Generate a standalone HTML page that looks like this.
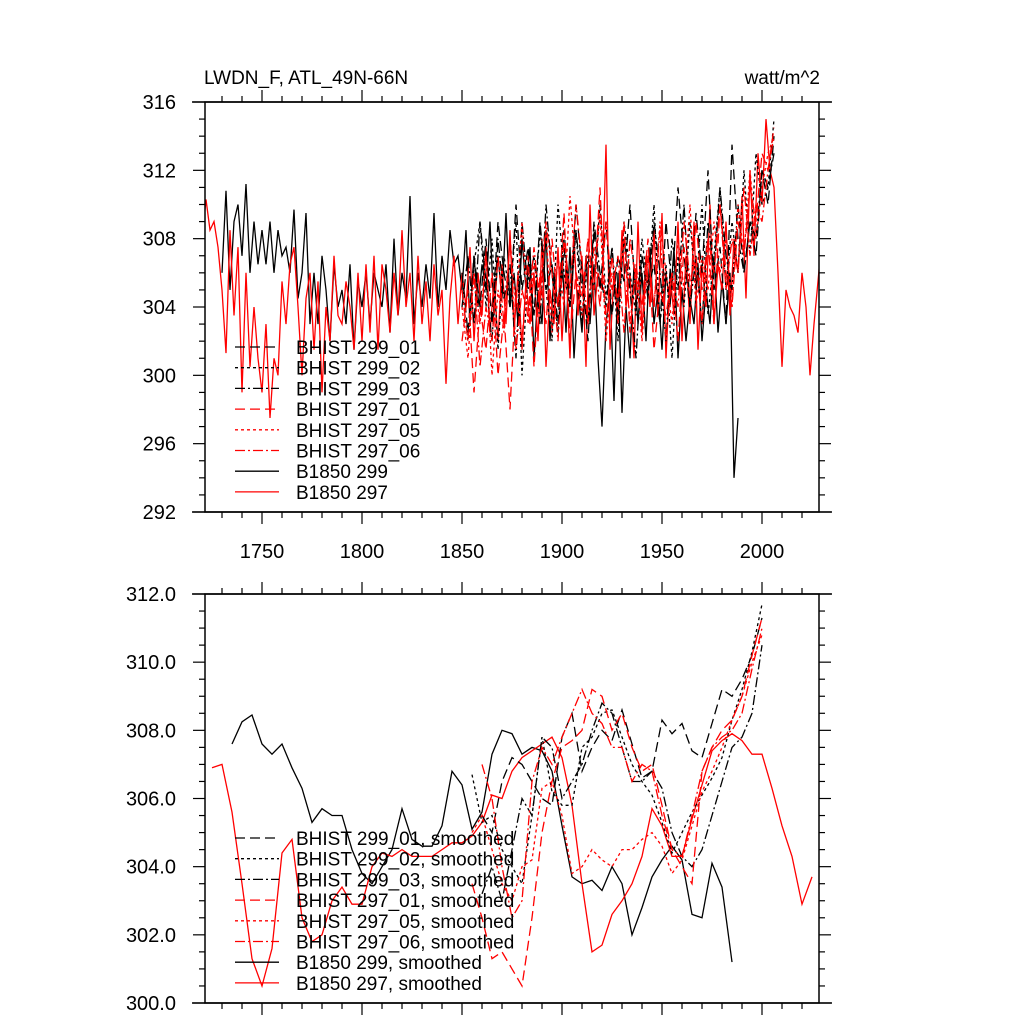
<!DOCTYPE html>
<html><head><meta charset="utf-8"><style>
body{margin:0;background:#fff}
svg{font-family:"Liberation Sans",sans-serif}
</style></head><body>
<svg id="c" width="1024" height="1024" viewBox="0 0 1024 1024">
<text x="204" y="84" font-size="19">LWDN_F, ATL_49N-66N</text>
<text x="820" y="84" font-size="19" text-anchor="end">watt/m^2</text>
</svg>
<script>
const b299Start=1730;
const b299=[306,310.8,305,309,310,307,311.2,306,309,306.5,308.5,306.5,309,306,308.5,307,307.5,306,309.7,304.5,
306,309.5,303,306,303,307,305,302,306.5,304,305,303,306.5,301.5,305.5,304,306,303,306,305,
304,306.5,302.5,308,303.5,306,304.5,310.5,303,306,304,306.5,304.5,309.5,304,307,305,308.5,306.5,307,
305,308.5,303,307,304,306.5,305,309,303.5,307,304.5,309.5,304,306,303,308,305,307.5,301,305,
303,308.5,302,306,304,307,302.5,307.5,301,305,302.5,307,303,306.5,301,297,303,305,298.5,306,
297.8,304,301,306.5,303,306,302,307.5,303,305,301.5,306,304,307.5,301,305,302,304.5,303,306.5,
302,305,303,307,302.5,305.5,303,306,294,297.5];
const b297Start=1720;
const b297=[308,310.3,308.5,309,307.5,305,301.3,308.5,303.5,307.5,299,306,300.5,304,301,299,303,297.5,301,300,
305.5,303,306.5,307.5,304,300,304.5,306,301.5,305.5,299,304,302,307,303.5,303,305.5,304,301.5,306,
302,306.5,302.5,307,301.5,306.5,305,302.5,306,303.5,308.5,304,306,302,307,303,305.5,302,306.5,303.5,
305,299.5,304.5,307,303,306,304,307.5,302,306,303.5,307.5,302.5,305.5,302,306.5,303,308.5,302.5,306,
301.5,305.5,303,306,302,308,300.5,305,303,307.5,302,306.5,301,308,303.5,307,300.5,310,303.5,306,
305,313.5,301.5,306,303,308.5,304,306,301,309,302.5,307,304,308.5,303.5,309.5,301,306,303.5,309,
302,307,303,309,301.5,306.5,304,310,303,306.5,305,309,303.5,308,306,310.5,304.5,312,307,313,
310,315,312,311,306,300.5,305,304,303.5,302.5,306,304,300,303,305.5,308.2];
const histStart=1850;
const h299_01=[306,302.5,307,304,308,303,309,306,304,310,305,307.5,303.5,309,305,306.5,303,308.5,304,310,306,302,308.5,305,309,303.5,307,305.5,310,304,307,305,306.5,303,309,305,311,307,304,309.5,306,312,305,307.5,303,313.5,308,306,309,307,312,310,314];
const h299_02=[305,302,306.5,309,304,308,301.5,307,304.5,309,300,306,303.5,308.5,305,302,310,306,304,308.5,303,307,305,310,304.5,307.5,302,309,306,303.5,308,305,310,303,306.5,301,307,304,309,305,310,303.5,307,311,305,309,306,312,307,313,310,311,315];
const h299_03=[304,307,303,309,305.5,302,308,304.5,306.5,301,309,305,307,303,310,306,302.5,307.5,304,308.5,305,303,309,306,304,307.5,303.5,308,305,301,307,304.5,309,306,302,308,305,310,304,307,303,309,306,311,307,305,310,306,309,308,312,311,313];
const h297_01=[302,305,299,304,301.5,306,300,303.5,298,305,302,307,300.5,306,303,308,304,309.5,302,306,304.5,308,305,311,303,307,304,309,302.5,306.5,304,308,301.5,305,303.5,306,302,307.5,304.5,309,305,308,303,310,306,304,309,307,311,309,313,312,314.5];
const h297_05=[304,301,306,303,307,300,305,302.5,308,304,309,303,306.5,305,308.5,302.5,307,304,310.5,306,303.5,308,305,309.5,302,306,304.5,308,303,306.5,302,307,304,309,306,303,308,305,310,304,307,305,309,306,308,304,310,307,312,308,311,313,314];
const h297_06=[305,302,306,300.5,304,302,307,303,308,301.5,305,303.5,307.5,304,309,306,302,308,305,310,306.5,303,307.5,304,309,305,307,302.5,308,305.5,303,307,304,308.5,302,306,304,309,305.5,307,303,308,306,310,305,308,306,311,307,310,309,312,314];
// smoothed (5-year spacing)
const sb299Start=1735;
const sb299=[307.6,308.25,308.45,307.6,307.3,307.6,306.9,306.3,305.3,305.7,305.5,305.5,304.5,303.8,303.5,304,304.5,305.7,304.8,304.6,304.6,305.2,306.8,306.4,305.1,305.6,307.3,308,307.9,307.3,307.5,307.4,306.8,305.2,303.7,303.5,303.6,303.3,304,303.5,302,302.8,303.7,304.2,304.6,304.2,302.6,302.5,304.1,303.4,301.2];
const sb297Start=1725;
const sb297=[306.9,307.0,305.6,303.5,301.3,300.5,301.6,304.4,304.8,302.5,301.8,302.0,303.0,303.4,302.9,302.9,304.0,304.4,304.3,304.5,304.3,304.3,304.3,304.5,304.7,304.7,304.9,305.3,306.1,306.0,306.8,307.2,307.4,307.6,307.8,307.2,305.8,303.5,301.5,301.7,302.6,303.0,303.5,304.3,305.7,305.2,304.3,304.3,305.4,306.4,307.4,307.7,307.9,307.7,307.3,307.3,306.3,305.2,304.3,302.9,303.7];
const sh299_01Start=1860;
const sh299_01=[305.5,305,306.5,307.2,307,306.5,306,305.8,307.8,308.5,306.8,307.5,308,307.7,308.6,307.6,306.6,306.8,308.3,307.9,308.2,307.4,307.2,308.2,309.2,309.0,309.5,310.2,311.3];
const sh299_02Start=1855;
const sh299_02=[306.7,305.3,305.5,304.5,304,303.5,305.5,307.8,306.2,305.8,305.8,307.5,307.8,308.5,308.6,307.8,307,306.5,306.1,305.3,304.4,305,305.6,306.1,306.6,307.2,308.3,309.2,310.3,311.7];
const sh299_03Start=1860;
const sh299_03=[303.2,304,303,304.5,306,305.5,307.8,307.5,306,306.5,307,308,308.8,308.5,307.5,306.5,306.5,306.8,306.3,305,304.3,304,304.5,305.5,306.5,307.5,307.8,308.5,310.5];
const sh297_01Start=1855;
const sh297_01=[303.5,302.5,301.3,301.5,301,300.5,302.5,305,306.5,307.5,307.7,308,309.2,309,308,308.5,307.5,306.8,307,305.8,304.5,304,303.5,306.8,307.5,308,308.3,309.0,310.2,311.3];
const sh297_05Start=1855;
const sh297_05=[305,305.5,304.5,303.5,303,304,304.2,306.3,306.5,305.5,303.8,304,304.5,304.2,304,304.5,304.5,304.8,305,304.6,303.8,304.2,305.2,306.2,306.8,307.5,308.3,309.0,310.0,310.8];
const sh297_06Start=1860;
const sh297_06=[307,306,304,302.5,303,306.5,307.5,307,307.8,308.5,309.2,308.5,308.2,307.5,307.5,306.5,307,306.8,305.5,304.5,304.3,305.5,306.8,307.5,307.8,308,308.5,309.8,311];
const xTicks=[1750,1800,1850,1900,1950,2000];
const topYTicks=[292,296,300,304,308,312,316];
const botYTicks=["300.0","302.0","304.0","306.0","308.0","310.0","312.0"];
const legTop=["BHIST 299_01","BHIST 299_02","BHIST 299_03","BHIST 297_01","BHIST 297_05","BHIST 297_06","B1850 299","B1850 297"];
const legBot=["BHIST 299_01, smoothed","BHIST 299_02, smoothed","BHIST 299_03, smoothed","BHIST 297_01, smoothed","BHIST 297_05, smoothed","BHIST 297_06, smoothed","B1850 299, smoothed","B1850 297, smoothed"];

const NS="http://www.w3.org/2000/svg";
const svg=document.getElementById('c');
const L=205,R=819;
const sx=y=>262+(y-1750)*2;
function mk(tag,at,parent){const e=document.createElementNS(NS,tag);for(const k in at)e.setAttribute(k,at[k]);(parent||svg).appendChild(e);return e;}
const styles=[["#000","10,5"],["#000","3,3"],["#000","10,3,2,3"],["#f00","10,5"],["#f00","3,3"],["#f00","10,3,2,3"],["#000",""],["#f00",""]];

function panel(name,T,B,ymin,ymax,yMajor,yMinor,labels,series,leg,legY,showX){
  const g=mk('g',{});
  
  
  const sy=v=>B-(v-ymin)/(ymax-ymin)*(B-T);
  const cp=mk('clipPath',{id:name+'-clip'},g);
  mk('rect',{x:L,y:T,width:R-L,height:B-T},cp);
  const sg=mk('g',{'clip-path':'url(#'+name+'-clip)'},g);
  series.forEach((s,i)=>{
    const pts=s.vals.map((v,j)=>sx(s.start+j*s.step).toFixed(1)+','+sy(v).toFixed(1)).join(' ');
    const p=mk('polyline',{points:pts,fill:'none',stroke:styles[s.st][0],'stroke-width':1.3,'stroke-dasharray':styles[s.st][1]},sg);
    
    
  });
  const fr=mk('rect',{x:L,y:T,width:R-L,height:B-T,fill:'none',stroke:'#000','stroke-width':1.5},g);
  
  
  mk('line',{x1:L-13,x2:R+13,y1:T,y2:T,stroke:'#000','stroke-width':1.5},g);
  mk('line',{x1:L-13,x2:R+13,y1:B,y2:B,stroke:'#000','stroke-width':1.5},g);
  for(let yr=1730;yr<=2020;yr+=10){
    const x=sx(yr),maj=yr%50===0,len=maj?12:6;
    mk('line',{x1:x,x2:x,y1:B,y2:B+len,stroke:'#000','stroke-width':1.2},g);
    mk('line',{x1:x,x2:x,y1:T,y2:T-len,stroke:'#000','stroke-width':1.2},g);
  }
  if(showX) xTicks.forEach(yr=>{
    const t=mk('text',{x:sx(yr),y:B+46,'font-size':20,'text-anchor':'middle'},g);t.textContent=yr;
    
    
  });
  for(let v=ymin;v<=ymax+1e-6;v+=yMinor){
    const y=sy(v),maj=Math.abs((v-ymin)/yMajor-Math.round((v-ymin)/yMajor))<1e-6,len=maj?12:6;
    mk('line',{x1:L,x2:L-len,y1:y,y2:y,stroke:'#000','stroke-width':1.2},g);
    mk('line',{x1:R,x2:R+len,y1:y,y2:y,stroke:'#000','stroke-width':1.2},g);
  }
  labels.forEach((lb,i)=>{
    const t=mk('text',{x:176,y:sy(ymin+i*yMajor)+7,'font-size':20,'text-anchor':'end'},g);t.textContent=lb;
    
    
  });
  leg.forEach((lb,i)=>{
    const y=legY+i*20.7;
    const lg=mk('g',{},g);
    
    
    mk('line',{x1:235,x2:279,y1:y,y2:y,stroke:styles[i][0],'stroke-width':1.3,'stroke-dasharray':styles[i][1]},lg);
    const t=mk('text',{x:296,y:y+7,'font-size':19},lg);t.textContent=lb;
  });
}
panel('top-panel',102,512,292,316,4,1,topYTicks,[
 {name:'b1850-299',start:b299Start,step:2,vals:b299,st:6},
 {name:'b1850-297',start:b297Start,step:2,vals:b297,st:7},
 {name:'bhist-299-01',start:histStart,step:3,vals:h299_01,st:0},
 {name:'bhist-299-02',start:histStart,step:3,vals:h299_02,st:1},
 {name:'bhist-299-03',start:histStart,step:3,vals:h299_03,st:2},
 {name:'bhist-297-01',start:histStart,step:3,vals:h297_01,st:3},
 {name:'bhist-297-05',start:histStart,step:3,vals:h297_05,st:4},
 {name:'bhist-297-06',start:histStart,step:3,vals:h297_06,st:5}
],legTop,347,true);
panel('bottom-panel',594,1003,300,312,2,0.5,botYTicks,[
 {name:'b1850-299-smoothed',start:sb299Start,step:5,vals:sb299,st:6},
 {name:'b1850-297-smoothed',start:sb297Start,step:5,vals:sb297,st:7},
 {name:'bhist-299-01-smoothed',start:sh299_01Start,step:5,vals:sh299_01,st:0},
 {name:'bhist-299-02-smoothed',start:sh299_02Start,step:5,vals:sh299_02,st:1},
 {name:'bhist-299-03-smoothed',start:sh299_03Start,step:5,vals:sh299_03,st:2},
 {name:'bhist-297-01-smoothed',start:sh297_01Start,step:5,vals:sh297_01,st:3},
 {name:'bhist-297-05-smoothed',start:sh297_05Start,step:5,vals:sh297_05,st:4},
 {name:'bhist-297-06-smoothed',start:sh297_06Start,step:5,vals:sh297_06,st:5}
],legBot,838,false);
</script>
</body></html>
